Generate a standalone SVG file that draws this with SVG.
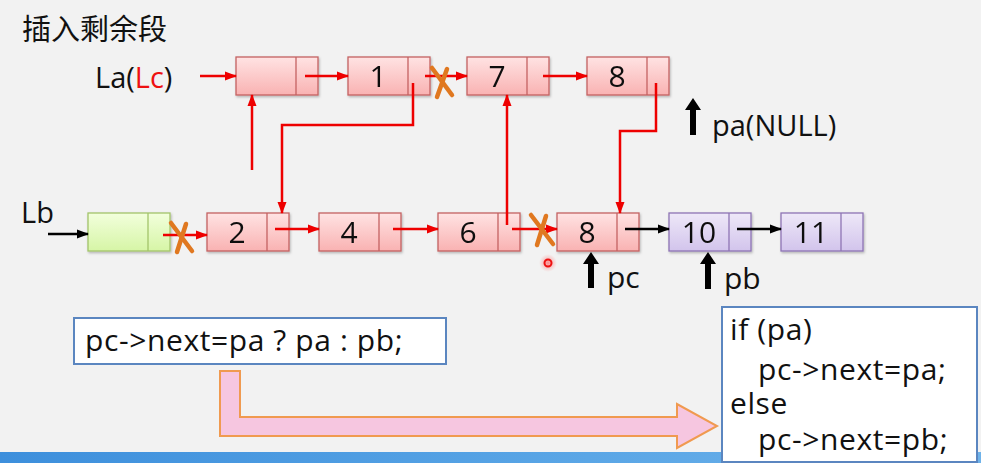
<svg xmlns="http://www.w3.org/2000/svg" width="981" height="463" viewBox="0 0 981 463">
<defs>
<linearGradient id="gr" x1="0" y1="0" x2="0" y2="1"><stop offset="0" stop-color="#ffe3e3"/><stop offset="1" stop-color="#f9b2b2"/></linearGradient>
<linearGradient id="gg" x1="0" y1="0" x2="0" y2="1"><stop offset="0" stop-color="#f2ffdc"/><stop offset="1" stop-color="#d6f5a6"/></linearGradient>
<linearGradient id="gp" x1="0" y1="0" x2="0" y2="1"><stop offset="0" stop-color="#eee8f8"/><stop offset="1" stop-color="#d2c4ec"/></linearGradient>
<linearGradient id="gb" x1="0" y1="0" x2="1" y2="0"><stop offset="0" stop-color="#3d8fdc"/><stop offset="0.6" stop-color="#5aa6e6"/><stop offset="1" stop-color="#6fb3ea"/></linearGradient>
<radialGradient id="glow"><stop offset="0" stop-color="#ff6060" stop-opacity="0.7"/><stop offset="1" stop-color="#ff8080" stop-opacity="0"/></radialGradient>
<marker id="ar" markerWidth="12" markerHeight="12" refX="11" refY="6" orient="auto" markerUnits="userSpaceOnUse"><path d="M0,1.5 L12,6 L0,10.5 Z" fill="#ee0000"/></marker>
<marker id="ab" markerWidth="12" markerHeight="12" refX="11" refY="6" orient="auto" markerUnits="userSpaceOnUse"><path d="M0,1.5 L12,6 L0,10.5 Z" fill="#000"/></marker>
<filter id="sh" x="-10%" y="-10%" width="125%" height="130%"><feDropShadow dx="1" dy="1.5" stdDeviation="1" flood-color="#000" flood-opacity="0.25"/></filter>
</defs>
<style>
.txt{font-family:"Open Sans","Noto Sans","Noto Sans CJK SC",sans-serif;fill:#111;}
.num{font-family:"Open Sans","Noto Sans",sans-serif;font-size:30px;fill:#111;text-anchor:middle;}
.red rect{fill:url(#gr);stroke:#c46262;stroke-width:1.3;}
.red line{stroke:#c46262;stroke-width:1.3;}
.grn rect{fill:url(#gg);stroke:#a3c46a;stroke-width:1.3;}
.grn line{stroke:#a3c46a;stroke-width:1.3;}
.pur rect{fill:url(#gp);stroke:#8e74b4;stroke-width:1.3;}
.pur line{stroke:#8e74b4;stroke-width:1.3;}
.rl{stroke:#ee0000;stroke-width:2.5;fill:none;}
.bl{stroke:#000;stroke-width:2.5;fill:none;}
.x{stroke:#e07820;stroke-width:4.5;stroke-linecap:round;}
.code{font-family:"Open Sans","Noto Sans",sans-serif;font-size:30px;letter-spacing:0.6px;fill:#111;}
</style>
<rect width="981" height="463" fill="#f2f2f2"/>
<text class="txt" x="22" y="40" font-size="29" fill="#222">插入剩余段</text>
<text class="txt" x="95" y="88" font-size="29">La(<tspan fill="#ee1111">Lc</tspan>)</text>
<text class="txt" x="21" y="223" font-size="29">Lb</text>

<g id="nodeLa" class="red" filter="url(#sh)"><rect x="236" y="57" width="82" height="38"/><line x1="296" y1="57" x2="296" y2="95"/></g>
<g id="node1" class="red" filter="url(#sh)"><rect x="348" y="57" width="82" height="38"/><line x1="408" y1="57" x2="408" y2="95"/><text class="num" x="378" y="87">1</text></g>
<g id="node7" class="red" filter="url(#sh)"><rect x="467" y="57" width="82" height="38"/><line x1="527" y1="57" x2="527" y2="95"/><text class="num" x="497" y="87">7</text></g>
<g id="node8a" class="red" filter="url(#sh)"><rect x="587" y="57" width="82" height="38"/><line x1="647" y1="57" x2="647" y2="95"/><text class="num" x="617" y="87">8</text></g>

<g id="nodeLb" class="grn" filter="url(#sh)"><rect x="88" y="213" width="82" height="38"/><line x1="148" y1="213" x2="148" y2="251"/></g>
<g id="node2" class="red" filter="url(#sh)"><rect x="207" y="213" width="82" height="38"/><line x1="267" y1="213" x2="267" y2="251"/><text class="num" x="237" y="243">2</text></g>
<g id="node4" class="red" filter="url(#sh)"><rect x="319" y="213" width="82" height="38"/><line x1="379" y1="213" x2="379" y2="251"/><text class="num" x="349" y="243">4</text></g>
<g id="node6" class="red" filter="url(#sh)"><rect x="438" y="213" width="82" height="38"/><line x1="498" y1="213" x2="498" y2="251"/><text class="num" x="468" y="243">6</text></g>
<g id="node8b" class="red" filter="url(#sh)"><rect x="557" y="213" width="82" height="38"/><line x1="617" y1="213" x2="617" y2="251"/><text class="num" x="587" y="243">8</text></g>
<g id="node10" class="pur" filter="url(#sh)"><rect x="669" y="213" width="82" height="38"/><line x1="729" y1="213" x2="729" y2="251"/><text class="num" x="699" y="243">10</text></g>
<g id="node11" class="pur" filter="url(#sh)"><rect x="781" y="213" width="82" height="38"/><line x1="841" y1="213" x2="841" y2="251"/><text class="num" x="811" y="243">11</text></g>

<g id="connectors">
<line class="rl" x1="200" y1="76" x2="236" y2="76" marker-end="url(#ar)"/>
<line class="rl" x1="305" y1="76" x2="348" y2="76" marker-end="url(#ar)"/>
<line class="rl" x1="425" y1="76" x2="467" y2="76" marker-end="url(#ar)"/>
<line class="rl" x1="543" y1="76" x2="587" y2="76" marker-end="url(#ar)"/>
<polyline class="rl" points="413,83 413,125 282,125 282,213" marker-end="url(#ar)"/>
<line class="rl" x1="252" y1="170" x2="252" y2="95" marker-end="url(#ar)"/>
<line class="rl" x1="507" y1="225" x2="507" y2="95" marker-end="url(#ar)"/>
<polyline class="rl" points="656,83 656,131 620,131 620,213" marker-end="url(#ar)"/>
<line class="bl" x1="48" y1="234" x2="88" y2="234" marker-end="url(#ab)"/>
<line class="rl" x1="163" y1="235" x2="207" y2="235" marker-end="url(#ar)"/>
<line class="rl" x1="275" y1="229" x2="319" y2="229" marker-end="url(#ar)"/>
<line class="rl" x1="393" y1="229" x2="438" y2="229" marker-end="url(#ar)"/>
<line class="rl" x1="512" y1="229" x2="557" y2="229" marker-end="url(#ar)"/>
<line class="bl" x1="625" y1="229" x2="669" y2="229" marker-end="url(#ab)"/>
<line class="bl" x1="737" y1="229" x2="781" y2="229" marker-end="url(#ab)"/>
</g>

<g id="crosses">
<line class="x" x1="432" y1="68" x2="452" y2="95"/><line class="x" x1="447" y1="69" x2="437" y2="97"/>
<line class="x" x1="171" y1="223" x2="192" y2="251"/><line class="x" x1="186" y1="224" x2="177" y2="252"/>
<line class="x" x1="531" y1="215" x2="553" y2="244"/><line class="x" x1="546" y1="216" x2="537" y2="245"/>
</g>

<g id="pointers">
<path d="M588,288 V264 H583 L591,252 L599,264 H594 V288 Z" fill="#000"/>
<path d="M705,289 V264 H700 L708,252 L716,264 H711 V289 Z" fill="#000"/>
<path d="M690,135 V110 H685 L693,98 L701,110 H696 V135 Z" fill="#000"/>
<text class="txt" x="607" y="288" font-size="30">pc</text>
<text class="txt" x="724" y="289" font-size="30">pb</text>
<text class="txt" x="712" y="136" font-size="29">pa(NULL)</text>
</g>

<circle cx="548" cy="263" r="9" fill="url(#glow)"/>
<circle cx="548" cy="263" r="3.5" fill="none" stroke="#ee1111" stroke-width="2"/>

<rect x="0" y="452" width="981" height="11" fill="url(#gb)"/>

<g id="box1"><rect x="74" y="318" width="372" height="46" fill="#fff" stroke="#5b86c0" stroke-width="2"/>
<text class="code" x="85" y="351">pc-&gt;next=pa ? pa : pb;</text></g>

<g id="bigArrow"><polygon points="220,371 240,371 240,417 677,417 677,404 717,426 677,448 677,436 220,436" fill="#f6c6e0" stroke="#f09a50" stroke-width="2"/></g>

<g id="box2"><rect x="722" y="307" width="255" height="155" fill="#fff" stroke="#5b86c0" stroke-width="2"/>
<text class="code" x="730" y="340">if (pa)</text>
<text class="code" x="758" y="380">pc-&gt;next=pa;</text>
<text class="code" x="730" y="414">else</text>
<text class="code" x="758" y="450">pc-&gt;next=pb;</text></g>
</svg>
